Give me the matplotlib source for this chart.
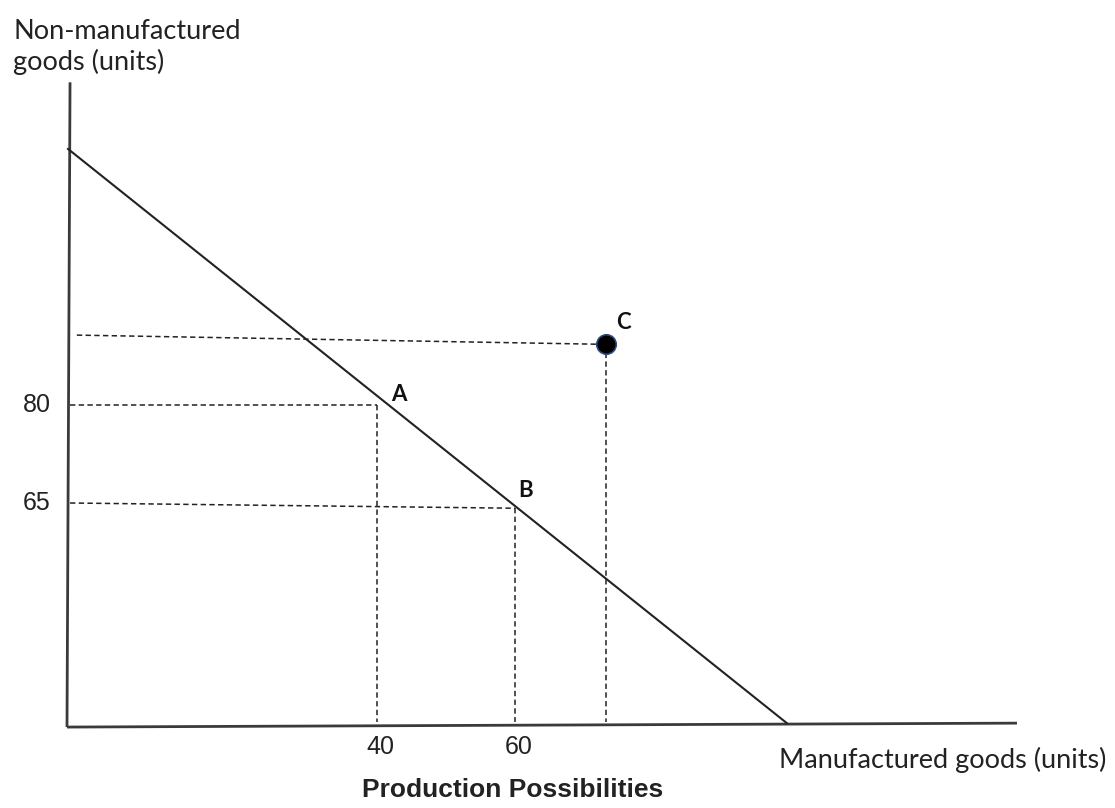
import matplotlib.pyplot as plt

# Eixos
y_axis_x = [-4.93, -4.49]
y_axis_y = [30.7, 129.4]
x_axis_x = [-4.93, 132.75]
x_axis_y = [30.7, 31.3]

# Fronteira de possibilidades de produção
ppf_x = [-4.78, 99.4]
ppf_y = [119.2, 31.3]

# Pontos A, B, C
point_names = ["A", "B", "C"]
point_x = [40, 60, 73.2]
point_y = [80, 64.2, 89.3]

x_ticks = [40, 60]
y_ticks = [80, 65]
guide_start_x = [-4.49, -4.49, -3.5]
guide_start_y = [80, 65, 90.7]
base_y = 31.5

LINE = "#3a3a3a"

fig = plt.figure(figsize=(11.15, 8.08), dpi=100)
ax = fig.add_axes([0, 0, 1, 1])
ax.set_xlim(-14.64, 146.96)
ax.set_ylim(18.31, 142.0)
ax.axis("off")

ax.plot(y_axis_x, y_axis_y, color=LINE, lw=2.0, solid_capstyle="butt")
ax.plot(x_axis_x, x_axis_y, color=LINE, lw=2.0, solid_capstyle="butt")
ax.plot(ppf_x, ppf_y, color="#222222", lw=1.5)

dash = (0, (3.5, 2.2))
for sx, sy, px, py in zip(guide_start_x, guide_start_y, point_x, point_y):
    end_x = px - 0.9 if px > 70 else px
    ax.plot([sx, end_x], [sy, py], color="#222222", lw=1.1, linestyle=dash)
    ax.plot([px, px], [py, base_y], color="#222222", lw=1.1, linestyle=dash)

ax.plot(point_x[2], point_y[2], "o", color="black", markersize=14,
        markeredgecolor="#2c4a80", markeredgewidth=1.2, zorder=5)

label_dx = [3.2, 1.5, 2.5]
label_dy = [1.6, 2.7, 3.4]
for name, px, py, dx, dy in zip(point_names, point_x, point_y, label_dx, label_dy):
    ax.text(px + dx, py + dy, name, fontsize=16, fontweight="bold",
            family="Lato", ha="center", va="center", color="#111111")

for t in x_ticks:
    ax.text(t + 0.5, 27.6, str(t), fontsize=18, family="Liberation Sans",
            ha="center", va="center", color="#222222")
for t in y_ticks:
    ax.text(-7.25, t, str(t), fontsize=18, family="Liberation Sans",
            ha="right", va="center", color="#222222")

ax.text(-12.75, 134.8, "Non-manufactured\ngoods (units)", fontsize=19.5,
        family="Lato", ha="left", va="center", linespacing=1.25, color="#222222")
ax.text(98.3, 25.7, "Manufactured goods (units)", fontsize=19.5,
        family="Lato", ha="left", va="center", color="#222222")
ax.text(59.6, 21.1, "Production Possibilities", fontsize=19, fontweight="bold",
        family="Liberation Sans", ha="center", va="center", color="#222222")

fig.savefig("out.png", dpi=100)
